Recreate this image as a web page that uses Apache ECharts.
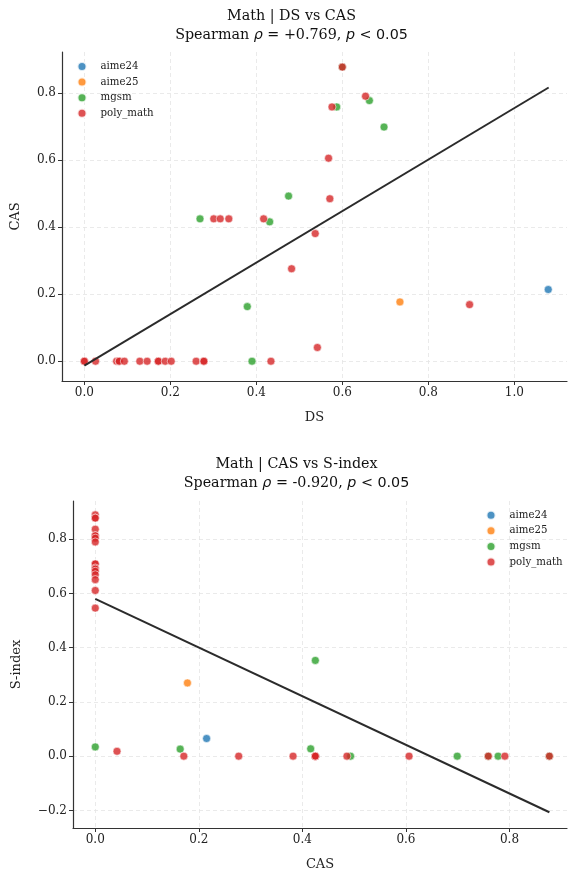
<!DOCTYPE html>
<html>
<head>
<meta charset="utf-8">
<script src="https://cdn.jsdelivr.net/npm/echarts@6/dist/echarts.min.js"></script>
<style>
html, body { margin: 0; padding: 0; background: #fff; }
#chart { width: 568px; height: 872px; }
</style>
</head>
<body>
<div id="chart"></div>
<script>
// datasets (legend order)
const groups = ['aime24', 'aime25', 'mgsm', 'poly_math']
const colors = ['#1f77b4', '#ff7f0e', '#2ca02c', '#d62728']

// top panel: [DS, CAS]
const dsCas = {
  aime24: [[1.079, 0.214]],
  aime25: [[0.734, 0.177]],
  mgsm: [[0.269, 0.425], [0.431, 0.416], [0.379, 0.163], [0.390, 0], [0.475, 0.493],
    [0.587, 0.759], [0.663, 0.778], [0.697, 0.699], [0.600, 0.878]],
  poly_math: [[0, 0], [0, 0], [0.026, 0], [0.075, 0], [0.081, 0], [0.081, 0], [0.093, 0],
    [0.129, 0], [0.146, 0], [0.172, 0], [0.172, 0], [0.188, 0], [0.202, 0], [0.260, 0],
    [0.278, 0], [0.278, 0], [0.434, 0],
    [0.301, 0.425], [0.316, 0.425], [0.336, 0.425], [0.417, 0.425], [0.482, 0.276],
    [0.537, 0.381], [0.542, 0.041], [0.568, 0.606], [0.571, 0.485], [0.576, 0.759],
    [0.654, 0.791], [0.600, 0.878], [0.896, 0.169]]
}

// bottom panel: [CAS, S-index]
const casS = {
  aime24: [[0.215, 0.065]],
  aime25: [[0.178, 0.270]],
  mgsm: [[0, 0.034], [0.164, 0.026], [0.416, 0.027], [0.425, 0.353], [0.493, 0],
    [0.699, 0], [0.759, 0], [0.778, 0], [0.877, 0]],
  poly_math: [[0, 0.890], [0, 0.878], [0, 0.878], [0, 0.837], [0, 0.813], [0, 0.813],
    [0, 0.804], [0, 0.790], [0, 0.709], [0, 0.709], [0, 0.694], [0, 0.690], [0, 0.682],
    [0, 0.669], [0, 0.651], [0, 0.611], [0, 0.546],
    [0.042, 0.018], [0.171, 0], [0.277, 0], [0.382, 0], [0.425, 0], [0.425, 0],
    [0.425, 0], [0.425, 0], [0.486, 0], [0.606, 0], [0.759, 0], [0.791, 0], [0.877, 0]]
}

// fitted regression lines (end points)
const fitTop = [[0, -0.013], [1.08, 0.817]]
const fitBottom = [[0, 0.580], [0.877, -0.207]]

// tick labels
const topXTicks = [0, 0.2, 0.4, 0.6, 0.8, 1.0]
const topYTicks = [0, 0.2, 0.4, 0.6, 0.8]
const botXTicks = [0, 0.2, 0.4, 0.6, 0.8]
const botYTicks = [-0.2, 0, 0.2, 0.4, 0.6, 0.8]

const serif = '"DejaVu Serif", serif'
const sans = '"DejaVu Sans", sans-serif'

const chart = echarts.init(document.getElementById('chart'))

function axis(gridIndex, min, max, ticks, name, nameGap) {
  return {
    type: 'value',
    gridIndex,
    min,
    max,
    name,
    nameLocation: 'middle',
    nameGap,
    nameTextStyle: { fontFamily: serif, fontSize: 13, color: '#222' },
    axisLine: { show: true, onZero: false, lineStyle: { color: '#333', width: 1.2 } },
    axisTick: { show: true, length: 4, customValues: ticks, lineStyle: { color: '#333', width: 1 } },
    axisLabel: {
      customValues: ticks,
      formatter: v => Number(v).toFixed(1).replace('-', '\u2212'),
      fontFamily: serif,
      fontSize: 12,
      color: '#222',
      margin: 6
    },
    splitLine: { show: true, lineStyle: { type: [4, 3], color: '#e4e4e4', width: 0.8 } }
  }
}

const series = []
groups.forEach((g, i) => {
  const style = { color: colors[i], opacity: 0.8, borderColor: '#fff', borderWidth: 0.7 }
  series.push({ type: 'scatter', name: g, xAxisIndex: 0, yAxisIndex: 0, data: dsCas[g], symbolSize: 8, itemStyle: style })
  series.push({ type: 'scatter', name: g, xAxisIndex: 1, yAxisIndex: 1, data: casS[g], symbolSize: 8, itemStyle: style })
})
series.push({ type: 'line', xAxisIndex: 0, yAxisIndex: 0, data: fitTop, symbol: 'none', silent: true,
  lineStyle: { color: '#2b2b2b', width: 2 } })
series.push({ type: 'line', xAxisIndex: 1, yAxisIndex: 1, data: fitBottom, symbol: 'none', silent: true,
  lineStyle: { color: '#2b2b2b', width: 2 } })

function legend(left, top) {
  return {
    data: groups,
    orient: 'vertical',
    left,
    top,
    padding: 0,
    icon: 'circle',
    itemWidth: 9,
    itemHeight: 9,
    itemGap: 4.6,
    selectedMode: false,
    textStyle: { fontFamily: serif, fontSize: 10.2, color: '#222', lineHeight: 10, padding: [0, 0, 0, 9] }
  }
}

const rich = {
  s: { fontFamily: serif, fontSize: 14.3, fill: '#111' },
  m: { fontFamily: sans, fontStyle: 'italic', fontSize: 14.3, fill: '#111' },
  n: { fontFamily: sans, fontSize: 14.3, fill: '#111' }
}
function titleText(x, y, text) {
  return {
    type: 'text',
    x, y,
    style: { text, rich, align: 'center', verticalAlign: 'middle', fontFamily: serif, fontSize: 14.3, fill: '#111' }
  }
}

const option = {
  animation: false,
  backgroundColor: '#fff',
  grid: [
    { left: 62, top: 52, width: 505, height: 329 },
    { left: 73, top: 501, width: 494, height: 328 }
  ],
  xAxis: [
    axis(0, -0.052, 1.1226, topXTicks, 'DS', 30),
    axis(1, -0.043, 0.911, botXTicks, 'CAS', 30)
  ],
  yAxis: [
    axis(0, -0.059, 0.923, topYTicks, 'CAS', 40),
    axis(1, -0.265, 0.941, botYTicks, 'S-index', 50)
  ],
  legend: [legend(76.5, 61), legend(485.5, 509.7)],
  graphic: [
    titleText(291.5, 16, '{s|Math | DS vs CAS}'),
    titleText(291.5, 35, '{s|Spearman }{m|\u03c1}{s| = +0.769, }{m|p}{n| < 0.05}'),
    titleText(296.5, 464, '{s|Math | CAS vs S-index}'),
    titleText(296.5, 483, '{s|Spearman }{m|\u03c1}{s| = -0.920, }{m|p}{n| < 0.05}')
  ],
  series
}

chart.setOption(option)
</script>
</body>
</html>
